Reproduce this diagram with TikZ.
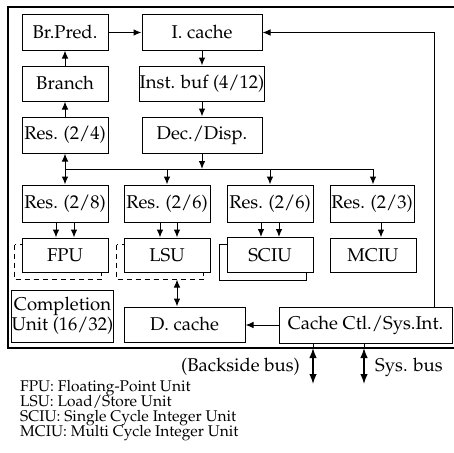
\documentclass[tikz,border=0pt]{standalone}
\usepackage[T1]{fontenc}
\renewcommand\rmdefault{ppl}
\usetikzlibrary{arrows.meta,calc}
\pgfdeclarelayer{background}
\pgfsetlayers{background,main}
\begin{document}
\begin{tikzpicture}[x=1pt,y=-1pt,
 box/.style={draw,fill=white,line width=1pt,inner sep=0pt,align=center,font=\fontsize{18.5}{20}\selectfont},
 arr/.style={-{Latex[length=8pt,width=6.5pt]},line width=1pt},
 darr/.style={{Latex[length=8pt,width=6.5pt]}-{Latex[length=8pt,width=6.5pt]},line width=1pt},
 busarr/.style={{Latex[length=10pt,width=7.5pt]}-{Latex[length=10pt,width=7.5pt]},line width=1.4pt},
 ln/.style={line width=1pt},
 frameline/.style={line width=1.9pt},
 shadowdash/.style={line width=1pt,dash pattern=on 5pt off 4pt},
 legend/.style={anchor=west,inner sep=0pt,text height=10.5pt,text depth=3pt,font=\fontsize{15.5}{17}\selectfont},
 lbl/.style={inner sep=0pt,font=\fontsize{18.5}{20}\selectfont},
]
\useasboundingbox (0,0) rectangle (454,452);
% outer frame
\draw[frameline] (454,7) -- (8,7) -- (8,348) -- (454,348);
% top column boxes
\node[box,minimum width=86,minimum height=35] (brpred) at (65,32.5) {Br.Pred.};
\node[box,minimum width=120,minimum height=35] (icache) at (202,32.5) {I. cache};
\node[box,minimum width=86,minimum height=35] (branch) at (65,83.5) {Branch};
\node[box,minimum width=120,minimum height=35] (instbuf) at (202,83.5) {Inst. buf (4/12)};
\node[box,minimum width=86,minimum height=36] (res24) at (65,135) {Res. (2/4)};
\node[box,minimum width=120,minimum height=36] (decdisp) at (202,135) {Dec./Disp.};
% reservation stations
\node[box,minimum width=86,minimum height=37] (res28) at (65,203.5) {Res. (2/8)};
\node[box,minimum width=86,minimum height=37] (res26a) at (167,203.5) {Res. (2/6)};
\node[box,minimum width=86,minimum height=37] (res26b) at (270,203.5) {Res. (2/6)};
\node[box,minimum width=84,minimum height=37] (res23) at (372,203.5) {Res. (2/3)};
% execution units
\node[box,minimum width=86,minimum height=34] (fpu) at (65,255) {FPU};
\node[box,minimum width=86,minimum height=34] (lsu) at (167,255) {LSU};
\node[box,minimum width=86,minimum height=35] (sciu) at (270,255) {SCIU};
\node[box,minimum width=86,minimum height=34] (mciu) at (373,255) {MCIU};
% bottom row
\node[box,minimum width=95,minimum height=52] (compl) at (62.5,316) {Completion\\Unit (16/32)};
\node[box,minimum width=121,minimum height=35] (dcache) at (184.5,324.5) {D. cache};
\node[box,minimum width=173,minimum height=36] (cachectl) at (365.5,325) {Cache Ctl./Sys.Int.};
% shadows
\begin{pgfonlayer}{background}
\draw[shadowdash] ([shift={(-7,7)}]fpu.north west) rectangle ([shift={(-7,7)}]fpu.south east);
\draw[shadowdash] ([shift={(-7,7)}]lsu.north west) rectangle ([shift={(-7,7)}]lsu.south east);
\draw[ln] ([shift={(-7,7.5)}]sciu.north west) rectangle ([shift={(-7,7)}]sciu.south east);
\end{pgfonlayer}
% front-end connectors
\draw[arr] (brpred.east) -- (icache.west);
\draw[arr] (icache.south) -- (instbuf.north);
\draw[arr] (instbuf.south) -- (decdisp.north);
\draw[arr] (branch.north) -- (brpred.south);
\draw[arr] (res24.north) -- (branch.south);
% dispatch bus
\coordinate (busL) at (65,169);
\coordinate (busR) at (373,169);
\draw[ln] (busL) -- (busR);
\draw[arr] (decdisp.south) -- (decdisp.south |- busL);
\draw[darr] (res24.south) -- (res28.north);
\draw[arr] (res26a.north |- busL) -- (res26a.north);
\draw[arr] (res26b.north |- busL) -- (res26b.north);
\draw[arr] (busR) -- (busR |- res23.north);
% reservation stations to units
\draw[arr] ([xshift=-9pt]res28.south) -- ([xshift=-9pt]fpu.north);
\draw[arr] ([xshift=9pt]res28.south) -- ([xshift=9pt]fpu.north);
\draw[arr] ([xshift=-7pt]res26a.south) -- ([xshift=-7pt]lsu.north);
\draw[arr] ([xshift=10pt]res26a.south) -- ([xshift=10pt]lsu.north);
\draw[arr] ([xshift=-9pt]res26b.south) -- ([xshift=-9pt]sciu.north);
\draw[arr] ([xshift=9pt]res26b.south) -- ([xshift=9pt]sciu.north);
\draw[arr] ([xshift=9pt]res23.south) -- ([xshift=9pt]res23.south |- mciu.north);
% memory side
\coordinate (lsub) at ($(lsu.south)+(10,7)$);
\draw[darr] (lsub) -- (lsub |- dcache.north);
\draw[arr] (cachectl.west) -- (cachectl.west -| dcache.east);
\draw[arr] ([xshift=68.5pt]cachectl.north) |- (icache.east);
% external buses
\coordinate (bstop) at (313,348);
\coordinate (bsbot) at (313,384);
\coordinate (sytop) at (364,348);
\coordinate (sybot) at (364,384);
\draw[ln] (cachectl.south -| bstop) -- (bstop);
\draw[ln] (cachectl.south -| sytop) -- (sytop);
\draw[busarr] (bstop) -- (bsbot);
\draw[busarr] (sytop) -- (sybot);
\node[lbl,anchor=east] (bslbl) at (300,367) {(Backside bus)};
\node[lbl,anchor=west] (sylbl) at (375,367) {Sys. bus};
% legend
\node[legend] (leg1) at (20,388) {FPU: Floating-Point Unit};
\node[legend] (leg2) at (20,403) {LSU: Load/Store Unit};
\node[legend] (leg3) at (20,418) {SCIU: Single Cycle Integer Unit};
\node[legend] (leg4) at (20,433) {MCIU: Multi Cycle Integer Unit};
\end{tikzpicture}
\end{document}
